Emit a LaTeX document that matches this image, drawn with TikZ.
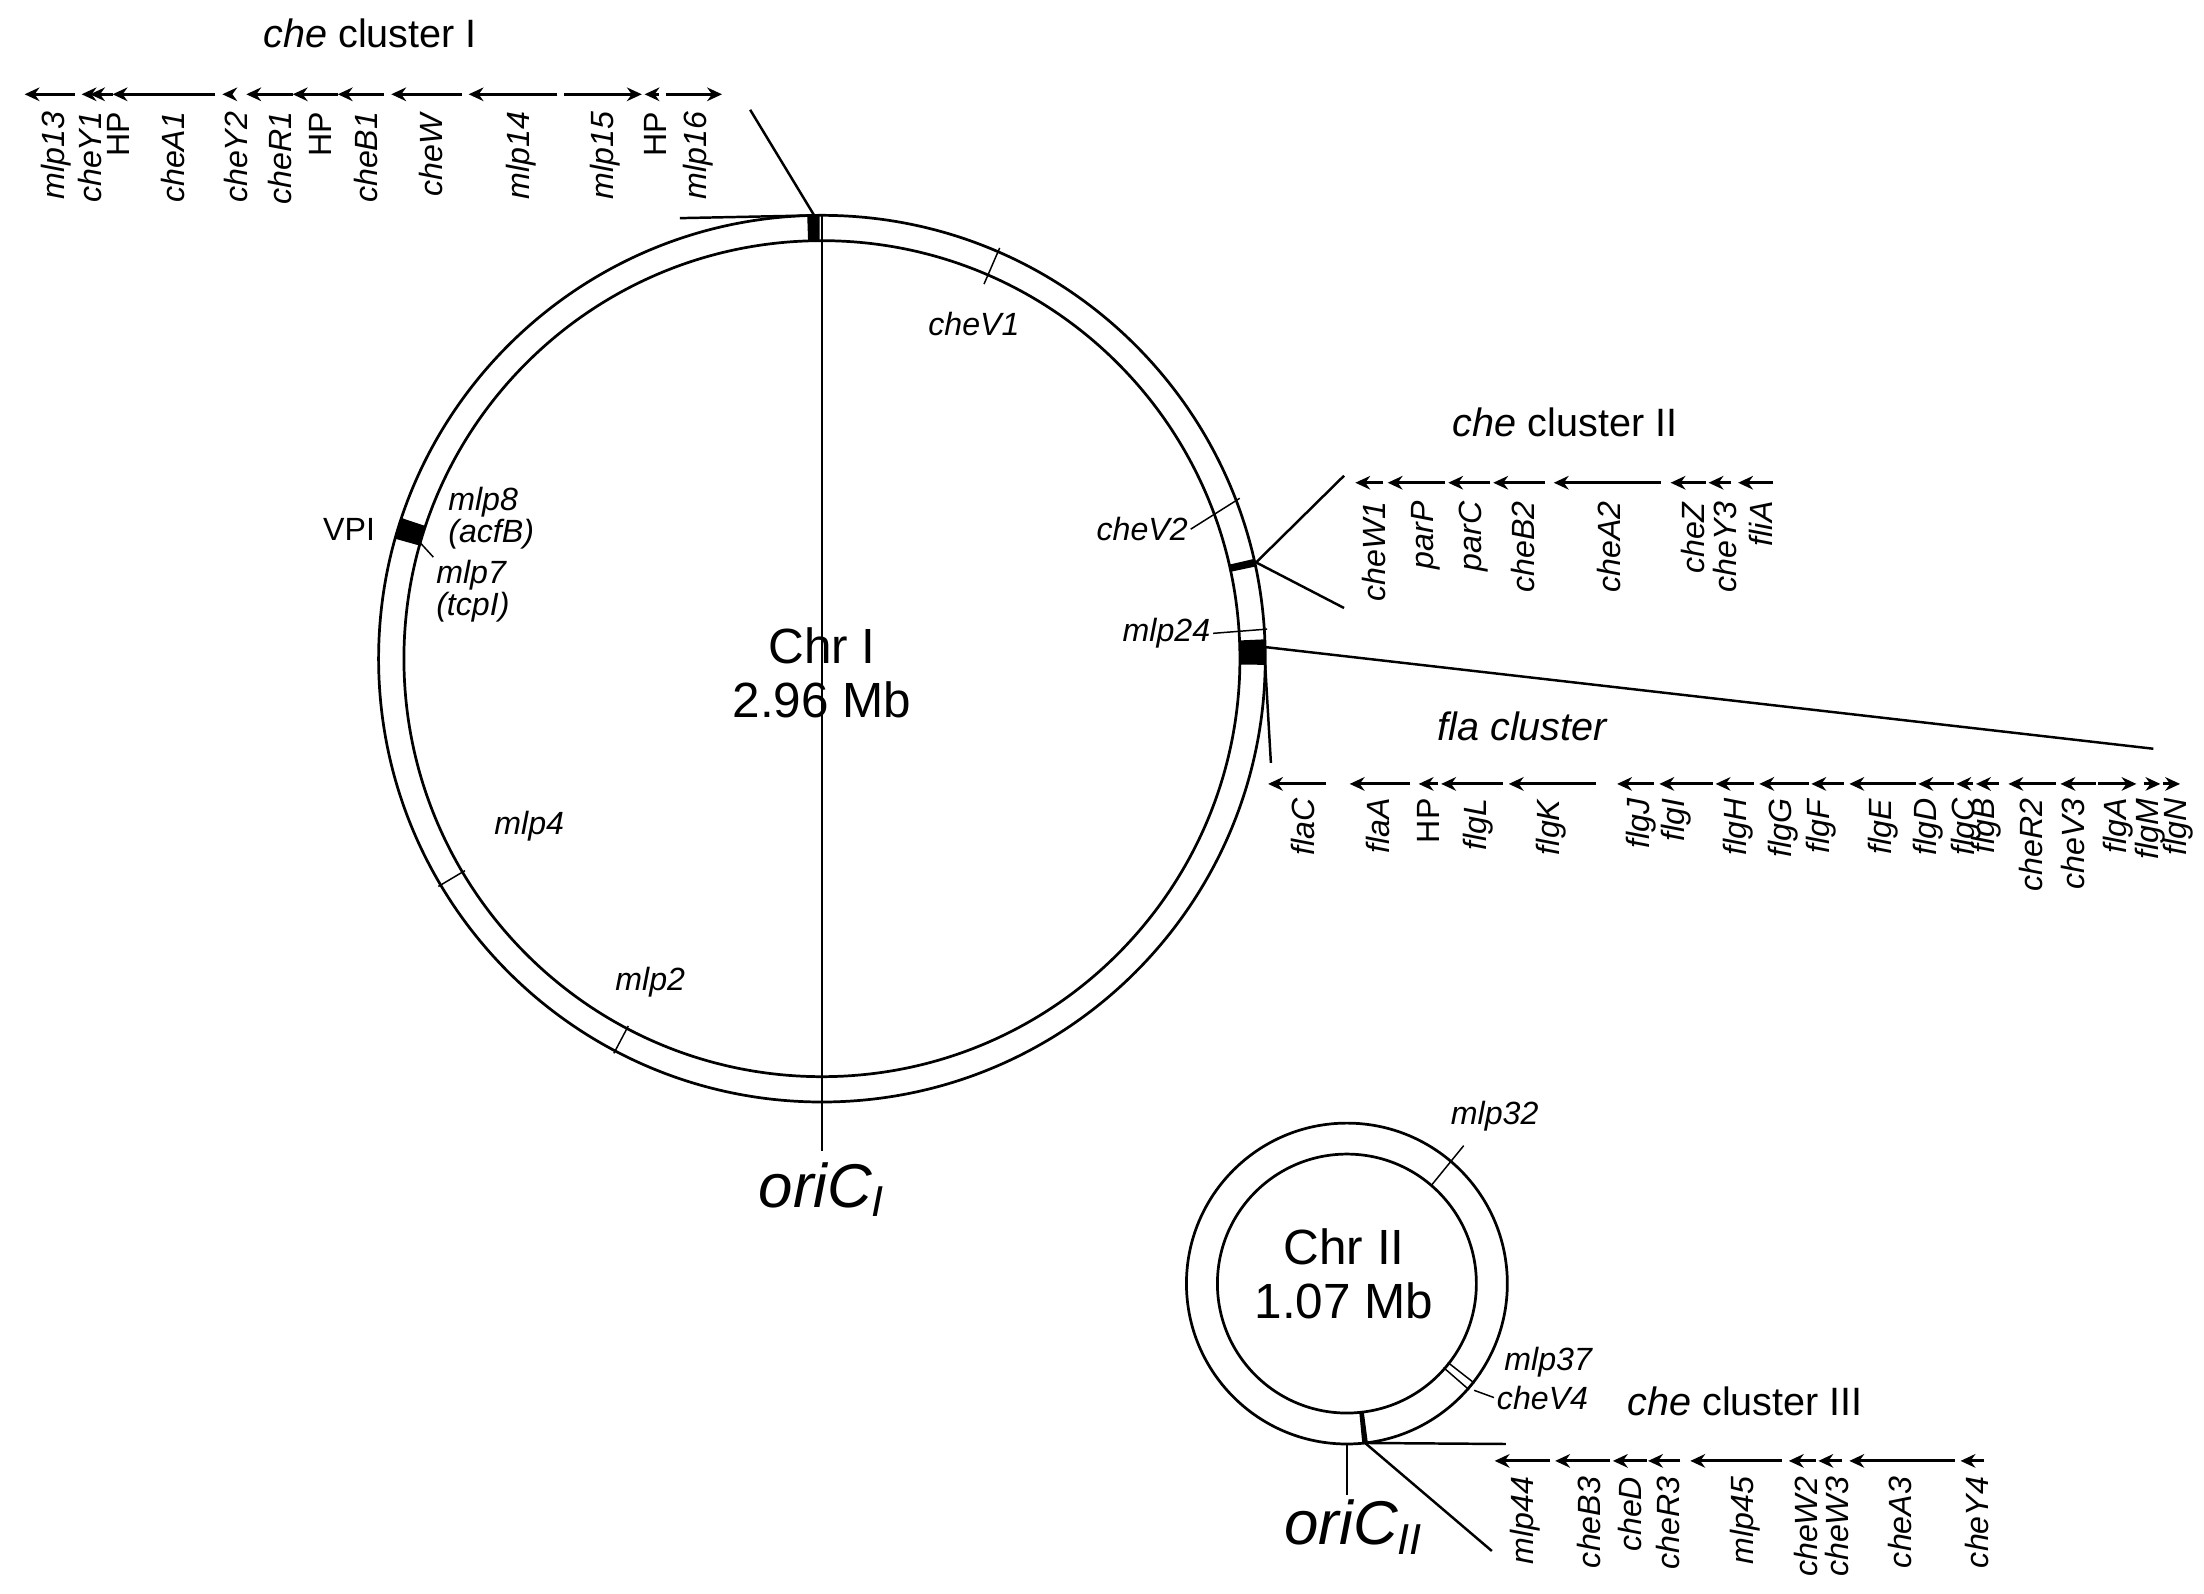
\documentclass[tikz,border=0pt]{standalone}
\usepackage{fontspec}
\setmainfont{Liberation Sans}
\usetikzlibrary{arrows.meta,calc}
\begin{document}
\begin{tikzpicture}[x=0.02cm,y=-0.02cm,
  gl/.style={line width=1.2pt,-{Stealth[length=6pt,width=5.5pt]}},
  gn/.style={font=\fontsize{13}{13}\selectfont,rotate=90,anchor=east,inner sep=0pt},
  lab/.style={font=\fontsize{13}{13}\selectfont\itshape,inner sep=1pt},
  ttl/.style={font=\fontsize{16}{16}\selectfont,inner sep=0pt},
  big/.style={font=\fontsize{20}{22}\selectfont,align=center},
  ring/.style={line width=1.1pt},
  tk/.style={line width=0.6pt},
  ln/.style={line width=1pt}]
\useasboundingbox (0,0) rectangle (1566,1132);
% ---------- Chr I ----------
\coordinate (c1) at (584,468);
\draw[ring] (c1) circle [radius=315];
\draw[ring] (c1) circle [radius=297];
\node[big] (chr1) at (584,478) {Chr I\\2.96 Mb};
% blocks (visual angle phi -> tikz angle -phi)
\fill ($(c1)+(-90.3:297)$) arc[start angle=-90.3,end angle=-91.9,radius=297] -- ($(c1)+(-91.9:315)$) arc[start angle=-91.9,end angle=-90.3,radius=315] -- cycle;
\fill ($(c1)+(-161.5:297)$) arc[start angle=-161.5,end angle=-164.3,radius=297] -- ($(c1)+(-164.3:315)$) arc[start angle=-164.3,end angle=-161.5,radius=315] -- cycle;
\fill ($(c1)+(-12:297)$) arc[start angle=-12,end angle=-13,radius=297] -- ($(c1)+(-13:315)$) arc[start angle=-13,end angle=-12,radius=315] -- cycle;
\fill ($(c1)+(0.8:297)$) arc[start angle=0.8,end angle=-2.5,radius=297] -- ($(c1)+(-2.5:315)$) arc[start angle=-2.5,end angle=0.8,radius=315] -- cycle;
\coordinate (bI) at ($(c1)+(-91:315)$);
\coordinate (bII) at ($(c1)+(-12.5:316)$);
\coordinate (bFa) at ($(c1)+(-1.5:315)$);
\coordinate (bFb) at ($(c1)+(0.8:315)$);
\coordinate (eI1) at (533,78);
\coordinate (eI2) at (483,155);
\coordinate (eII1) at (955,338);
\coordinate (eII2) at (955,432);
\coordinate (eF1) at (1530,532);
\coordinate (eF2) at (903,542);
\draw[ln] (bI) -- (eI1);
\draw[ln] (bI) -- (eI2);
\draw[ln] (bII) -- (eII1);
\draw[ln] (bII) -- (eII2);
\draw[ln] (bFa) -- (eF1);
\draw[ln] (bFb) -- (eF2);
% ticks and labels
\coordinate (tV1) at ($(c1)+(-66.6:318)$);
\coordinate (tV1b) at ($(c1)+(-66.6:290)$);
\draw[tk] (tV1) -- (tV1b);
\node[lab] (cheV1) at (692,230) {cheV1};
\coordinate (tV2) at ($(c1)+(-21:318)$);
\node[lab,anchor=east] (cheV2) at (846,376) {cheV2};
\draw[tk] (tV2) -- (cheV2.east);
\coordinate (t24) at ($(c1)+(-3.8:317)$);
\node[lab,anchor=east] (mlp24) at (862,450) {mlp24};
\draw[tk] (t24) -- (mlp24.east);
\draw[tk] ($(c1)+(-210.7:295)$) -- ($(c1)+(-210.7:317)$);
\node[lab] (mlp4) at (376,587) {mlp4};
\draw[tk] ($(c1)+(-242.2:295)$) -- ($(c1)+(-242.2:317)$);
\node[lab] (mlp2) at (462,698) {mlp2};
\node[font=\fontsize{13}{13}\selectfont,inner sep=1pt] (vpi) at (248,376) {VPI};
\node[lab,align=left] (mlp8) at (349,368) {mlp8\\(acfB)};
\node[lab,align=left] (mlp7) at (336,420) {mlp7\\(tcpI)};
\coordinate (tV) at ($(c1)+(-163:305)$);
\draw[tk] (tV) -- (mlp7.north west);
\coordinate (o1a) at ($(c1)+(-90:315)$);
\coordinate (o1b) at (584,818);
\draw[ln] (o1a) -- (o1b);
\node[font=\fontsize{25}{25}\selectfont\itshape] (ori1) at (584,845) {oriC\textsubscript{\upshape\itshape I}};
% ---------- Chr II ----------
\coordinate (c2) at (957,912);
\draw[ring] (c2) circle [radius=114];
\draw[ring] (c2) circle [radius=92];
\node[big] (chr2) at (955,905) {Chr II\\1.07 Mb};
\fill ($(c2)+(82.5:92)$) arc[start angle=82.5,end angle=84.5,radius=92] -- ($(c2)+(84.5:114)$) arc[start angle=84.5,end angle=82.5,radius=114] -- cycle;
\coordinate (bIII) at ($(c2)+(83.5:114)$);
\coordinate (eIII1) at (1070,1026);
\coordinate (eIII2) at (1060,1102);
\draw[ln] (bIII) -- (eIII1);
\draw[ln] (bIII) -- (eIII2);
\coordinate (o2a) at ($(c2)+(90:114)$);
\coordinate (o2b) at (957,1062);
\draw[ln] (o2a) -- (o2b);
\node[font=\fontsize{25}{25}\selectfont\itshape] (ori2) at (962,1085) {oriC\textsubscript{\upshape\itshape II}};
\coordinate (t32) at ($(c2)+(-49.3:92)$);
\coordinate (t32b) at (1040,814);
\draw[tk] (t32) -- (t32b);
\node[lab] (mlp32) at (1062,793) {mlp32};
\draw[tk] ($(c2)+(38:91)$) -- ($(c2)+(38:115)$);
\draw[tk] ($(c2)+(41:91)$) -- ($(c2)+(41:115)$);
\node[lab] (mlp37) at (1100,968) {mlp37};
\node[lab] (cheV4) at (1096,993) {cheV4};
\draw[tk] ($(c2)+(40:118)$) -- (cheV4.west);
% ---------- titles ----------
\node[ttl] (tI) at (263,24) {\textit{che} cluster I};
\node[ttl] (tII) at (1112,300) {\textit{che} cluster II};
\node[ttl] (tF) at (1082,516) {\textit{fla cluster}};
\node[ttl] (tIII) at (1240,996) {\textit{che} cluster III};
% ---------- cluster I genes ----------
\foreach \a/\b in {53/17.5,64/58,80/64,153/80,165/158,208/175,240/208,273/240,328/278,396/333,468/458}
  \draw[gl] (\a,67) -- (\b,67);
\foreach \a/\b in {401/456,473/513}
  \draw[gl] (\a,67) -- (\b,67);
\foreach \x/\t in {40/mlp13,64/cheY1,123/cheA1,168/cheY2,199/cheR1,260/cheB1,306/cheW,370/mlp14,430/mlp15,496/mlp16}
  \node[gn] at (\x,79) {\textit{\t}};
\foreach \x in {84,228,466}
  \node[gn] at (\x,79) {HP};
% ---------- cluster II genes ----------
\foreach \a/\b in {983/963,1027/986,1059/1029,1098/1061,1180/1104,1212/1187,1230/1214,1260/1235}
  \draw[gl] (\a,343) -- (\b,343);
\foreach \x/\t in {976/cheW1,1013/parP,1047/parC,1082/cheB2,1143/cheA2,1203/cheZ,1226/cheY3,1251/fliA}
  \node[gn] at (\x,356) {\textit{\t}};
% ---------- fla cluster genes ----------
\foreach \a/\b in {942/901,1002/959,1022/1008,1068/1024,1134/1072,1175/1149,1217/1179,1246/1219,1285/1250,1310/1287,1361/1314,1388/1363,1402/1390,1420/1404,1461/1427,1489/1464}
  \draw[gl] (\a,557) -- (\b,557);
\foreach \a/\b in {1491/1518,1523/1535,1537/1549}
  \draw[gl] (\a,557) -- (\b,557);
\foreach \x/\t in {926/flaC,979/flaA,1050/flgL,1102/flgK,1166/flgJ,1191/flgI,1235/flgH,1267/flgG,1294/flgF,1338/flgE,1370/flgD,1397/flgC,1411/flgB,1443/cheR2,1473/cheV3,1505/flgA,1528/flgM,1548/flgN}
  \node[gn] at (\x,567) {\textit{\t}};
\node[gn] at (1015,567) {HP};
% ---------- cluster III genes ----------
\foreach \a/\b in {1101/1062,1144/1105,1170/1146,1194/1171,1266/1201,1290/1271,1309/1292,1389/1314,1410/1393}
  \draw[gl] (\a,1038) -- (\b,1038);
\foreach \x/\t in {1084/mlp44,1129/cheB3,1158/cheD,1185/cheR3,1240/mlp45,1283/cheW2,1305/cheW3,1350/cheA3,1405/cheY4}
  \node[gn] at (\x,1049) {\textit{\t}};
\end{tikzpicture}
\end{document}
